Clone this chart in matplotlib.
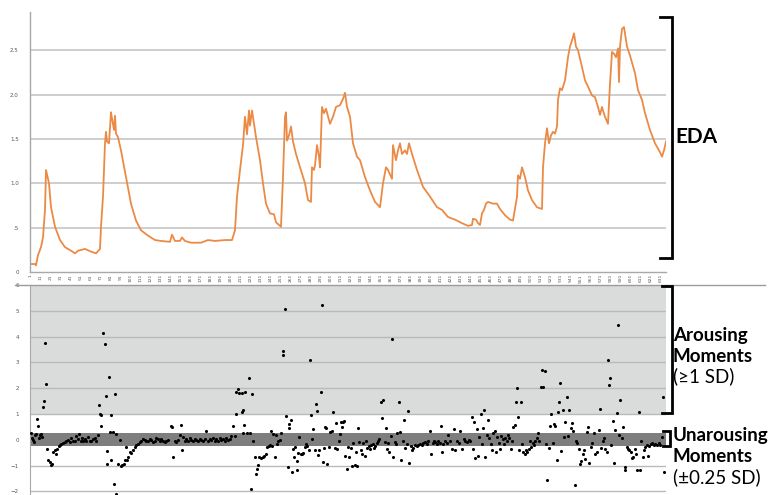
import matplotlib
matplotlib.use('Agg')
import matplotlib.pyplot as plt
from matplotlib.lines import Line2D
import numpy as np

# ---------------- data ----------------
# EDA signal (sample index, value)
eda_x = [0, 5, 6, 8, 11, 13, 15, 16, 19, 21, 25, 30, 35, 41, 45, 48, 55, 61, 66, 70,
         71, 73, 75, 76, 77, 79, 81, 82, 84, 85, 86, 88, 91, 96, 101, 106, 111, 118, 125, 131,
         140, 142, 145, 150, 152, 155, 161, 171, 178, 185, 195, 202, 205, 207, 210, 213, 215, 217, 219, 220,
         222, 224, 226, 230, 233, 236, 240, 244, 246, 251, 253, 255, 256, 257, 259, 261, 263, 266, 270, 275,
         278, 281, 282, 284, 285, 287, 289, 290, 292, 294, 296, 300, 303, 306, 310, 313, 315,
         317, 320, 323, 327, 330, 335, 340, 345, 350, 353, 356, 358, 362, 363, 366, 368, 370, 372, 375, 377,
         379, 382, 387, 393, 400, 407, 412, 418, 425, 432, 438, 442, 443, 446, 448, 450, 452, 454, 456, 458,
         463, 467, 470, 475, 480, 483, 487, 488, 490, 492, 495, 498, 502, 507, 512, 513, 515, 517, 519, 521,
         523, 525, 527, 528, 530, 532, 535, 538, 540, 542, 544, 546, 548, 552, 555, 558, 562, 565, 568, 570,
         572, 573, 575, 578, 580, 582, 584, 586, 588, 589, 590, 592, 594, 597, 600, 605, 608, 612, 615, 620,
         625, 630, 632, 634, 636]
eda_y = [.09, .09, .075, .19, .28, .39, .70, 1.15, 1.0, .73, .51, .36, .28, .24, .21, .24, .26, .23, .21, .26,
         .51, .85, 1.45, 1.58, 1.47, 1.45, 1.80, 1.73, 1.60, 1.76, 1.56, 1.52, 1.37, 1.07, .77, .58, .47, .41, .36, .35,
         .34, .42, .35, .35, .39, .35, .33, .33, .36, .35, .36, .36, .47, .85, 1.15, 1.43, 1.75, 1.55, 1.82, 1.65,
         1.82, 1.67, 1.52, 1.26, 1.00, .77, .66, .65, .56, .51, 1.07, 1.75, 1.80, 1.48, 1.54, 1.64, 1.47, 1.33, 1.18, 1.00,
         .81, .79, 1.18, 1.15, 1.20, 1.43, 1.30, 1.18, 1.86, 1.79, 1.84, 1.67, 1.75, 1.86, 1.88, 1.95, 2.02,
         1.86, 1.75, 1.45, 1.30, 1.26, 1.07, .92, .79, .73, 1.00, 1.18, 1.15, 1.05, 1.43, 1.26, 1.37, 1.45, 1.33, 1.37, 1.33,
         1.45, 1.33, 1.15, .96, .85, .73, .70, .62, .59, .55, .52, .53, .60, .59, .55, .53, .66, .70, .77, .79,
         .77, .77, .71, .64, .59, .58, .85, 1.09, 1.05, 1.18, 1.07, .92, .81, .73, .71, 1.18, 1.45, 1.62, 1.45, 1.54,
         1.58, 1.56, 1.64, 1.94, 2.07, 2.05, 2.16, 2.42, 2.54, 2.61, 2.69, 2.54, 2.50, 2.31, 2.16, 2.09, 1.99, 1.97, 1.86, 1.77,
         1.86, 1.82, 1.75, 1.67, 2.12, 2.48, 2.46, 2.42, 2.52, 2.14, 2.54, 2.74, 2.76, 2.54, 2.44, 2.24, 2.05, 1.94, 1.79, 1.60,
         1.45, 1.35, 1.30, 1.37, 1.47]

# Standardised moments (sample index, SD units)
pts_x = [1, 2, 3, 4, 5, 6, 7, 8, 9, 10, 11, 12, 13, 14, 15, 16, 17, 18, 20, 21,
         22, 23, 25, 26, 27, 29, 30, 31, 33, 35, 36, 38, 40, 41, 43, 45, 46, 48, 49, 51,
         52, 53, 55, 56, 58, 60, 61, 63, 65, 66, 68, 69, 70, 71, 71, 73, 75, 76, 77, 77,
         79, 80, 81, 81, 83, 84, 85, 86, 86, 88, 90, 91, 92, 94, 95, 96, 97, 98, 100, 101,
         103, 105, 106, 108, 110, 111, 113, 115, 116, 118, 120, 121, 123, 125, 126, 128, 130, 131, 133, 135,
         136, 138, 141, 142, 143, 145, 146, 148, 150, 151, 152, 153, 155, 156, 158, 160, 161, 163, 165, 166,
         168, 170, 171, 173, 175, 176, 178, 180, 181, 183, 185, 186, 188, 190, 191, 193, 195, 196, 198, 200,
         201, 203, 205, 206, 206, 208, 209,
         212, 212, 213, 213, 214, 215, 217, 219, 220, 221, 222, 223, 225, 226, 227, 228, 229, 231, 233, 234,
         236, 237, 239, 240, 241, 242, 243, 245, 246, 247, 248, 250, 251, 253, 253, 255, 256, 258, 259, 259,
         261, 262, 263, 264, 265, 267, 267, 268, 269, 271, 272, 273, 275, 276, 277, 279, 280, 281, 282, 283,
         285, 286, 287, 288, 289, 291, 292, 293, 294, 295, 296, 297, 299, 300, 302, 303, 305, 306, 307, 309,
         310, 311, 312, 313, 314, 315, 317, 318, 319, 321, 322, 323, 325, 326, 327, 328, 329, 331, 332, 333,
         335, 336, 337, 339, 340, 341, 343, 344, 345, 347, 348, 349, 351, 352, 353, 355, 356, 357, 358, 359,
         361, 362, 363, 365, 366, 367, 369, 370, 371, 373, 374, 375, 377, 378, 379, 381, 382, 383, 385, 387,
         388, 390, 392, 393, 395, 397, 398, 400, 401, 403, 404, 405, 407, 408, 410, 411, 412, 413, 415, 417,
         418, 420, 422,
         424, 425, 427, 429, 430, 432, 434, 435, 437, 439, 440, 442, 443, 444, 445, 447, 448, 449, 451, 452,
         453, 454, 455, 457, 458, 459, 461, 462, 463, 465, 466, 467, 469, 470, 471, 473, 474, 475, 477, 478,
         479, 481, 482, 483, 485, 486, 487, 488, 489, 491, 492, 493, 495, 496, 497, 499, 500, 501, 503, 504,
         505, 507, 508, 509, 511, 512, 513, 515, 516, 517, 519, 520, 521, 523, 524, 525, 527, 528, 529, 530,
         531, 533, 534, 535, 537, 538, 539, 541, 542, 543, 545, 546, 547, 549, 550, 551, 553, 554, 555, 557,
         558, 559, 561, 562, 564, 565, 567, 569, 570, 571, 573, 574, 575, 577, 578, 579, 580, 581, 583, 584,
         585, 587, 588, 589, 590, 592, 593, 595, 595, 597, 598, 599, 601, 602, 603, 605, 606, 607, 609, 610,
         611, 613, 614, 615, 617, 618, 619, 621, 622, 624, 625, 627, 629, 630, 632, 633, 634]
pts_y = [.26, .08, 0, -.09, .17, .21, .81, .55, .08, .17, .23, .1, 1.26, 1.52, 3.74, 2.17, -.35, -.8, -.86, -.99,
         -.93, -.48, -.41, -.54, -.35, -.26, -.22, -.15, -.13, -.09, -.03, 0, -.09, .08, -.03, -.03, .13, .04, .23, -.03,
         .08, -.03, .04, -.05, .1, -.03, -.05, .04, .08, -.03, .17, 1.35, 1.0, .55, .98, 4.13, 3.72, 1.68, -.93, -.45,
         2.45, .3, .98, -.77, .3, -1.73, 1.78, -2.09, .21, -.95, 0, -1.03, -.99, -.93, -.77, -.28, -.77, -.67, -.48, -.52,
         -.39, -.28, -.22, -.15, -.09, -.03, .04, 0, -.05, -.03, .04, 0, -.09, -.03, .08, .04, -.03, .04, -.05, -.09,
         -.03, 0, .55, .49, -.65, -.03, -.09, 0, .17, .57, -.41, .1, -.03, .04, -.03, .08, 0, -.03, .04, 0,
         -.03, .04, 0, -.05, .04, .34, -.03, .04, 0, .08, -.03, .04, -.03, .08, 0, .04, -.03, .08, 0, .04,
         .13, .55, .14, 1.0, 1.85, 1.97, 1.81,
         1.81, 1.07, 1.16, .26, .59, 1.85, .26, 2.4, .26, -1.9, 1.78, -.05, -.67, -1.32, -1.12, -.99, -.67, -.7, -.65, -.61,
         -.57, -.28, -.26, -.22, .36, -.26, .23, -.65, .17, -.15, -.03, 0, .26, 3.46, 3.29, 5.06, .94, -1.06, .46, .62,
         .77, -1.25, -.34, -.65, -.28, -1.19, -.83, -.52, .1, -.54, -.57, -.52, -.28, -.15, -.26, -.41, 3.08, .98, .04, .4,
         -.39, 1.39, 1.1, -.58, -.41, 1.87, 5.24, -.86, -.31, .49, .45, -.93, -.28, .3, .36, 1.07, -.31, .65, -.35, -.03,
         .21, .68, .49, .68, .72, -.61, -1.14, -.28, -.65, -.31, -1.03, -.13, -.99, -.48, -1.03, .46, -.09, -.41, -.57, -.13,
         -.61, -.03, -.31, -.26, -.35, -.22, -.15, -.31, -.26, -.13, -.03, .04, 1.46, .85, 1.55, -.09, .46, -.35, -.13, -.48,
         .13, 3.92, -.67, -.09, -.15, .26, 1.46, .3, -.77, -.03, .75, -.31, -.15, 1.1, -.9, -.26, -.41, -.31, -.22, -.26,
         -.22, -.15, -.22, -.13, -.09, -.15, -.03, .34, -.54, -.13, -.03, -.09, -.18, -.03, -.13, .55, -.48, -.15, -.03, -.13,
         .17, -.03, -.35,
         .43, -.41, -.03, -.13, .36, -.35, .04, -.03, -.09, 0, -.05, .9, -.35, .68, -.7, .41, -.61, .1, 1.0, -.15,
         .46, 1.16, -.67, .17, .77, .08, -.15, -.41, .26, .34, -.48, .1, -.13, -.35, .13, .04, -.15, .08, -.03, .17,
         .08, -.35, -.03, .49, .59, 1.48, 2.0, .9, -.41, 1.48, -.15, -.48, -.54, -.41, -.48, -.35, -.03, -.28, -.13, -.22,
         -.03, .08, .26, -.03, 2.06, 2.71, 2.04, 2.66, -.15, -1.55, -.31, .55, 1.0, -.13, .62, .52, -.77, 1.07, 1.48, 2.22,
         -.44, 1.14, .1, .68, 1.65, .13, 1.14, .46, .65, .36, -1.77, -.03, -.13, -.35, -.93, -.83, -.57, -.39, -.74, .3,
         .49, -.9, -.28, -.13, .26, -.54, -.48, .39, 1.2, -.31, -.03, .08, -.35, -.48, 3.1, 2.14, 2.4, -.22, .72, -.9,
         .39, 1.05, 4.46, .17, 1.56, .08, .49, -1.06, -1.19, -.28, -.35, -.41, -.48, -.7, -.67, -.35, -.54, -1.16, 1.07, -1.19,
         -.03, -.65, -.39, -.28, -.22, -.61, -.26, -.18, -.13, -.22, -.15, -.22, -.13, -.22, .1, 1.65, -1.25]

eda_ticks = [0, 0.5, 1.0, 1.5, 2.0, 2.5]
eda_tick_labels = ['0', '.5', '1.0', '1.5', '2.0', '2.5']
sd_ticks = [-2, -1, 0, 1, 2, 3, 4, 5, 6]
sample_ticks = list(range(1, 637, 10))

# ---------------- layout ----------------
W, H = 770, 495
fig = plt.figure(figsize=(7.7, 4.95), dpi=100)


def fx(px):
    return px / W


def fy(py):
    return 1 - py / H


spine_col = '#a8a8a8'
tick_col = '#555555'

# Top: EDA line
ax1 = fig.add_axes([fx(30), fy(272), (666 - 30) / W, (272 - 12) / H])
ax1.plot(eda_x, eda_y, color='#ec8a45', lw=1.3, solid_joinstyle='round')
ax1.set_xlim(0, 636)
ax1.set_ylim(0, 2.93)
ax1.set_yticks(eda_ticks)
ax1.set_yticklabels(eda_tick_labels)
ax1.set_xticks(sample_ticks)
ax1.set_xticklabels([str(t) for t in sample_ticks], rotation=90)
for v in eda_ticks[1:]:
    ax1.axhline(v, color='#c6c6c6', lw=1.2, zorder=0)
for s in ['top', 'right']:
    ax1.spines[s].set_visible(False)
for s in ['left', 'bottom']:
    ax1.spines[s].set_color(spine_col)
    ax1.spines[s].set_linewidth(1.0)
ax1.tick_params(axis='y', length=0, labelsize=4, colors=tick_col, pad=8)
ax1.tick_params(axis='x', length=0, labelsize=3.2, colors=tick_col, pad=1.5)

# Bottom: standardised moments
ax2 = fig.add_axes([fx(30), 0, (666 - 30) / W, (495 - 285) / H])
ax2.set_xlim(0, 636)
ax2.set_ylim(-2.14, 6)
ax2.axhspan(1, 6, color='#d9dcdb', lw=0, zorder=0)
for v in sd_ticks[:-1]:
    ax2.axhline(v, color='#bababa', lw=1.0, zorder=1)
ax2.axhspan(-0.25, 0.25, color='#7e7e7e', lw=0, zorder=2)
ax2.scatter(pts_x, pts_y, s=5, color='black', lw=0, zorder=3)
ax2.set_yticks(sd_ticks)
ax2.set_xticks([])
for s in ['top', 'right', 'bottom']:
    ax2.spines[s].set_visible(False)
ax2.spines['left'].set_color(spine_col)
ax2.tick_params(axis='y', length=0, labelsize=4, colors=tick_col, pad=8)

# separator line
fig.add_artist(Line2D([fx(15), fx(765)], [fy(285), fy(285)], color='#9c9c9c', lw=1.0))

# brackets
def bracket(x_in, x_out, y0, y1):
    fig.add_artist(Line2D([fx(x_in), fx(x_out), fx(x_out), fx(x_in)],
                          [fy(y0), fy(y0), fy(y1), fy(y1)],
                          color='black', lw=2, solid_joinstyle='miter'))

bracket(660, 672, 17, 258)
bracket(662, 672, 286, 413)
bracket(663, 670, 431, 446)

fam = ['Lato', 'DejaVu Sans']
fig.text(fx(675), fy(137), 'EDA', fontsize=15, fontweight='bold', family=fam, va='center', ha='left')
fig.text(fx(673), fy(335), 'Arousing', fontsize=13.5, fontweight='bold', family=fam, va='center', ha='left')
fig.text(fx(673), fy(357), 'Moments', fontsize=13.5, fontweight='bold', family=fam, va='center', ha='left')
fig.text(fx(673), fy(376), '(≥1 SD)', fontsize=13.5, family=fam, va='center', ha='left')
fig.text(fx(673), fy(436), 'Unarousing', fontsize=13.5, fontweight='bold', family=fam, va='center', ha='left')
fig.text(fx(673), fy(457), 'Moments', fontsize=13.5, fontweight='bold', family=fam, va='center', ha='left')
fig.text(fx(673), fy(477), '(±0.25 SD)', fontsize=13.5, family=fam, va='center', ha='left')

fig.savefig('out.png', dpi=100, facecolor='white')
